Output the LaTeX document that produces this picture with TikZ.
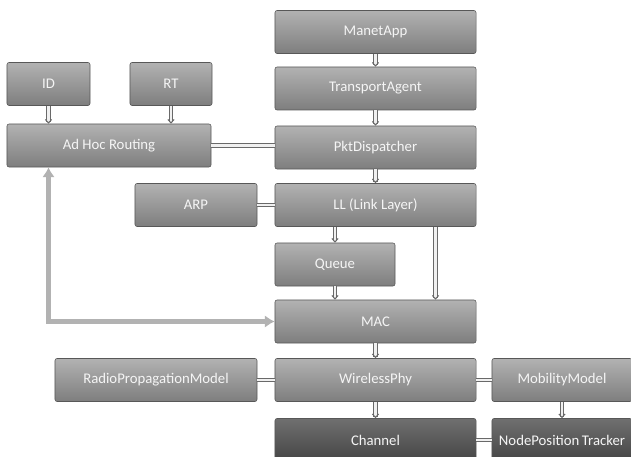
\documentclass[tikz,border=0pt]{standalone}
\usepackage{fontspec}
\setmainfont{Carlito}
\usetikzlibrary{arrows.meta}

\definecolor{boxtop}{RGB}{178,178,178}
\definecolor{boxbot}{RGB}{126,126,126}
\definecolor{darktop}{RGB}{112,112,112}
\definecolor{darkbot}{RGB}{68,68,68}
\definecolor{linkgray}{RGB}{105,105,105}
\definecolor{linkfill}{RGB}{240,240,240}
\definecolor{backgray}{RGB}{178,178,178}

\tikzset{
  blk/.style={draw=boxbot!70!black, line width=0.4pt, rounded corners=1.5pt,
    top color=boxtop, bottom color=boxbot, text=white!92!gray,
    minimum height=1.075cm, inner sep=0pt,
    font=\fontsize{10.5}{12}\selectfont},
  darkblk/.style={blk, top color=darktop, bottom color=darkbot},
  dlink/.style={draw=linkgray, line width=0.7pt, double=linkfill,
    double distance=1.8pt},
  darr/.style={dlink, -{Straight Barb[length=2.5pt,width=4.5pt]}},
  bigarr/.style={draw=backgray, line width=3.5pt,
    {Latex[length=7pt,width=9pt]}-{Latex[length=7pt,width=9pt]}}
}

\begin{document}
\begin{tikzpicture}[x=0.025cm, y=-0.025cm]
  \useasboundingbox (0,0) rectangle (631,457);

  % Protocol stack
  \node[blk, minimum width=5.025cm] (manet) at (375.5,32) {ManetApp};
  \node[blk, minimum width=5.025cm] (transport) at (375.5,88.5) {TransportAgent};
  \node[blk, minimum width=5.025cm] (pkt) at (375.5,147.5) {PktDispatcher};
  \node[blk, minimum width=5.025cm] (ll) at (375.5,205) {LL (Link Layer)};
  \node[blk, minimum width=3cm] (queue) at (335,264.5) {Queue};
  \node[blk, minimum width=5.025cm] (mac) at (375.5,321.5) {MAC};
  \node[blk, minimum width=5.025cm] (phy) at (375.5,380) {WirelessPhy};
  \node[darkblk, minimum width=5.025cm] (channel) at (375.5,440) {Channel};

  % Routing side
  \node[blk, minimum width=2.075cm] (id) at (48.5,84) {ID};
  \node[blk, minimum width=2.05cm] (rt) at (171,84) {RT};
  \node[blk, minimum width=5.1cm] (adhoc) at (109,145.5) {Ad Hoc Routing};
  \node[blk, minimum width=3.05cm] (arp) at (196,205) {ARP};

  % Radio side
  \node[blk, minimum width=5.05cm] (radio) at (156,380) {RadioPropagationModel};
  \node[blk, minimum width=3.5cm] (mobility) at (562,380) {MobilityModel};
  \node[darkblk, minimum width=3.5cm] (tracker) at (562,440) {NodePosition\,Tracker};

  % Routing feedback
  \draw[bigarr] (mac.west) -| (adhoc.south -| id);

  % Down the stack
  \draw[darr] (manet) -- (transport);
  \draw[darr] (transport) -- (pkt);
  \draw[darr] (pkt) -- (ll);
  \draw[darr] (ll.south -| queue) -- (queue);
  \draw[darr] (queue) -- (queue |- mac.north);
  \draw[darr] ([xshift=1.5cm]ll.south) -- ([xshift=1.5cm]mac.north);
  \draw[darr] (mac) -- (phy);
  \draw[darr] (phy) -- (channel);
  \draw[darr] (mobility) -- (tracker);
  \draw[darr] (id) -- (id |- adhoc.north);
  \draw[darr] (rt) -- (rt |- adhoc.north);

  % Side links
  \draw[dlink] (adhoc.east) -- (adhoc.east -| pkt.west);
  \draw[dlink] (arp) -- (ll);
  \draw[dlink] (radio) -- (phy);
  \draw[dlink] (phy) -- (mobility);
  \draw[dlink] (channel) -- (tracker);
\end{tikzpicture}
\end{document}
